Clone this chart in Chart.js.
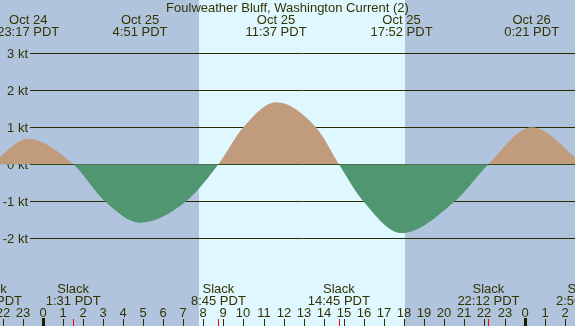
<!DOCTYPE html>
<html>
<head>
<meta charset="utf-8">
<script src="https://cdn.jsdelivr.net/npm/chart.js@4"></script>
<style>
  html, body { margin: 0; padding: 0; background: #b0c4de; }
  canvas { display: block; }
</style>
</head>
<body>
<canvas id="tideChart" width="575" height="326"></canvas>
<script>
// hours relative to midnight Oct 25 (PDT), current in knots
const curveHours = [-2.58, -0.72, 1.52, 3.1, 4.85, 7.14, 8.75, 9.99, 11.62, 13.61, 14.75, 15.97, 17.87, 20.53, 22.2, 24.35, 26.93];
const curveKnots = [0, 0.69, 0, -1, -1.58, -1, 0, 1, 1.68, 1, 0, -1, -1.86, -1, 0, 1.0, 0];

const maxHours = [-0.72, 4.85, 11.62, 17.87, 24.35];
const maxDates = ["Oct 24", "Oct 25", "Oct 25", "Oct 25", "Oct 26"];
const maxTimes = ["23:17 PDT", "4:51 PDT", "11:37 PDT", "17:52 PDT", "0:21 PDT"];

const slackHours = [-2.58, 1.52, 8.75, 14.75, 22.2, 26.93];
const slackTimes = ["21:25 PDT", "1:31 PDT", "8:45 PDT", "14:45 PDT", "22:12 PDT", "2:56 PDT"];

const hourTicks = [-2, -1, 0, 1, 2, 3, 4, 5, 6, 7, 8, 9, 10, 11, 12, 13, 14, 15, 16, 17, 18, 19, 20, 21, 22, 23, 24, 25, 26];
const hourLabels = ["22", "23", "0", "1", "2", "3", "4", "5", "6", "7", "8", "9", "10", "11", "12", "13", "14", "15", "16", "17", "18", "19", "20", "21", "22", "23", "0", "1", "2"];
const midnights = [0, 24];

const knotTicks = [3, 2, 1, 0, -1, -2];
const knotLabels = ["3 kt", "2 kt", "1 kt", "0 kt", "-1 kt", "-2 kt"];

const daylight = [7.78, 18.04];
const title = "Foulweather Bluff, Washington Current (2)";

const textColor = "#333300";
const font = "13px 'Liberation Sans', Arial, sans-serif";

const points = [];
for (let i = 0; i < curveHours.length; i++) {
  points.push({ x: curveHours[i], y: curveKnots[i] });
}

const decor = {
  id: "decor",
  beforeDraw(chart) {
    const ctx = chart.ctx;
    const x = chart.scales.x;
    ctx.save();
    ctx.fillStyle = "#b0c4de";
    ctx.fillRect(0, 0, chart.width, chart.height);
    const d0 = x.getPixelForValue(daylight[0]);
    const d1 = x.getPixelForValue(daylight[1]);
    ctx.fillStyle = "#dff7ff";
    ctx.fillRect(Math.round(d0), 0, Math.round(d1) - Math.round(d0), chart.height);
    ctx.restore();
  },
  beforeDatasetsDraw(chart) {
    const ctx = chart.ctx;
    const y = chart.scales.y;
    ctx.save();
    ctx.strokeStyle = "#2a2a00";
    ctx.lineWidth = 1;
    ctx.fillStyle = textColor;
    ctx.font = font;
    ctx.textAlign = "right";
    ctx.textBaseline = "middle";
    for (let i = 0; i < knotTicks.length; i++) {
      const py = Math.round(y.getPixelForValue(knotTicks[i])) + 0.5;
      ctx.beginPath();
      ctx.moveTo(30, py);
      ctx.lineTo(chart.width, py);
      ctx.stroke();
      ctx.fillText(knotLabels[i], 28, py + 1);
    }
    ctx.restore();
  },
  afterDraw(chart) {
    const ctx = chart.ctx;
    const x = chart.scales.x;
    const h = chart.height;
    ctx.save();
    ctx.fillStyle = textColor;
    ctx.font = font;
    ctx.textAlign = "center";
    ctx.textBaseline = "alphabetic";
    ctx.fillText(title, chart.width / 2, 12);

    for (let i = 0; i < maxHours.length; i++) {
      const px = x.getPixelForValue(maxHours[i]);
      ctx.fillText(maxDates[i], px, 24);
      ctx.fillText(maxTimes[i], px, 36);
    }
    for (let i = 0; i < slackHours.length; i++) {
      const px = x.getPixelForValue(slackHours[i]);
      ctx.fillText("Slack", px, 293);
      ctx.fillText(slackTimes[i], px, 305);
    }
    for (let i = 0; i < hourTicks.length; i++) {
      const px = Math.round(x.getPixelForValue(hourTicks[i]));
      ctx.fillText(hourLabels[i], px, 317);
      ctx.fillStyle = "#2a2a00";
      ctx.fillRect(px, 319, 1, h - 319);
      ctx.fillStyle = textColor;
    }
    ctx.fillStyle = "#1a1a00";
    for (const m of midnights) {
      const px = Math.round(x.getPixelForValue(m));
      ctx.fillRect(px - 1, 318, 3, h - 318);
    }
    ctx.fillStyle = "#ff0000";
    for (const s of slackHours) {
      const px = Math.round(x.getPixelForValue(s));
      ctx.fillRect(px, 319, 1, h - 319);
    }
    ctx.restore();
  }
};

new Chart(document.getElementById("tideChart"), {
  type: "line",
  data: {
    datasets: [
      {
        data: points,
        borderWidth: 0,
        borderColor: "rgba(0,0,0,0)",
        pointRadius: 0,
        cubicInterpolationMode: "monotone",
        fill: {
          target: "origin",
          above: "#c09c7c",
          below: "#4f9671"
        }
      }
    ]
  },
  options: {
    responsive: false,
    animation: false,
    devicePixelRatio: 1,
    layout: { padding: 0 },
    plugins: {
      legend: { display: false },
      tooltip: { enabled: false },
      title: { display: false }
    },
    scales: {
      x: {
        type: "linear",
        display: false,
        min: -2.126,
        max: 26.51
      },
      y: {
        display: false,
        min: -4.37,
        max: 4.44
      }
    }
  },
  plugins: [decor]
});
</script>
</body>
</html>
